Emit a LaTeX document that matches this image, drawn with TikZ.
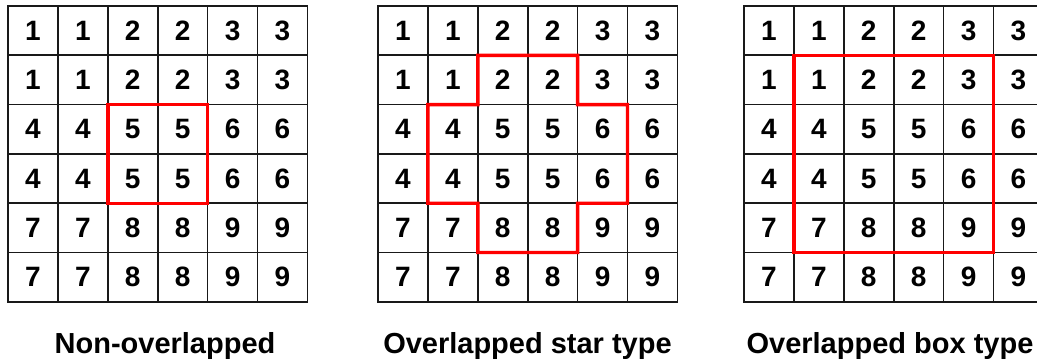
\documentclass[tikz,border=0pt]{standalone}
\usepackage{fontspec}
\setmainfont{Liberation Sans}
\usetikzlibrary{positioning}
\tikzset{
    cellbox/.style={
        draw=black!90,
        line width=1.7pt,
        minimum width=49.9pt,
        minimum height=49.3pt,
        inner sep=0pt,
        outer sep=0pt,
        font=\fontsize{28}{28}\selectfont\bfseries
    },
    region/.style={
        draw=red,
        line width=3.4pt,
        line join=miter
    },
    caption/.style={
        anchor=base,
        font=\fontsize{29}{30}\selectfont\bfseries
    }
}
\begin{document}
\begin{tikzpicture}[x=1pt, y=-1pt]
        \useasboundingbox (0,0) rectangle (1037,364);
        \clip (0,0) rectangle (1037,364);

        % three 6x6 grids of block numbers
        \foreach \g/\gx in {1/8,2/378,3/744} {
            \foreach \r in {0,...,5} {
                \foreach \c in {0,...,5} {
                    \pgfmathtruncatemacro\val{3*int(\r/2)+int(\c/2)+1}
                    \node[cellbox] (g\g-\r-\c) at ({\gx+(\c+0.5)*49.9},{6+(\r+0.5)*49.3}) {\val};
                }
            }
        }

        % non-overlapped block
        \draw[region] (g1-2-2.north west) -- (g1-2-3.north east) -- (g1-3-3.south east) -- (g1-3-2.south west) -- cycle;

        % star shaped overlap
        \draw[region] (g2-1-2.north west) -- (g2-1-3.north east) -- (g2-1-3.south east)
            -- (g2-2-4.north east) -- (g2-3-4.south east) -- (g2-3-4.south west)
            -- (g2-4-3.south east) -- (g2-4-2.south west) -- (g2-3-2.south west)
            -- (g2-3-1.south west) -- (g2-2-1.north west) -- (g2-2-2.north west) -- cycle;

        % box shaped overlap
        \draw[region] (g3-1-1.north west) -- (g3-1-4.north east) -- (g3-4-4.south east) -- (g3-4-1.south west) -- cycle;

        \node[caption] (cap1) at (165,353) {Non-overlapped};
        \node[caption] (cap2) at (527.5,353) {Overlapped star type};
        \node[caption] (cap3) at (890,353) {Overlapped box type};
    \end{tikzpicture}
\end{document}
